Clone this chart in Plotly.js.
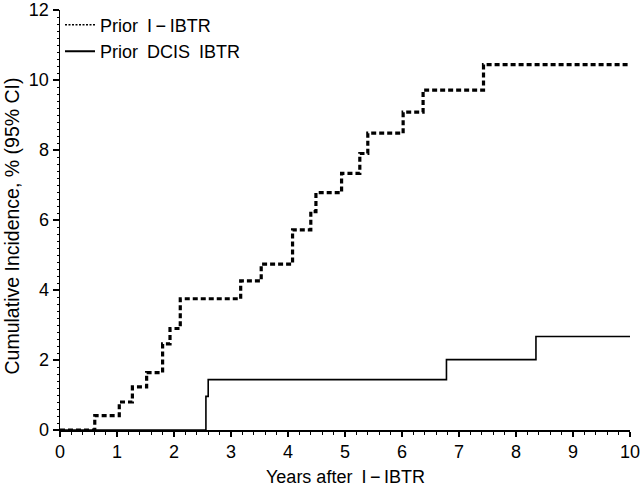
<!DOCTYPE html>
<html>
<head>
<meta charset="utf-8">
<script src="https://cdn.plot.ly/plotly-3.0.1.min.js"></script>
<style>html,body{margin:0;padding:0;background:#fff;}#chart{width:640px;height:490px;}</style>
</head>
<body>
<div id="chart"></div>
<script>
// Prior I-IBTR (dashed) step curve
const priorIX = [0, 0.61, 1.04, 1.27, 1.52, 1.80, 1.93, 2.11, 3.17, 3.53, 4.08, 4.40, 4.49, 4.94, 5.26, 5.40, 6.02, 6.37, 7.43, 10];
const priorIY = [0, 0.41, 0.80, 1.23, 1.64, 2.46, 2.90, 3.75, 4.26, 4.74, 5.72, 6.24, 6.78, 7.33, 7.90, 8.48, 9.08, 9.71, 10.44, 10.44];
// Prior DCIS IBTR (solid) step curve
const priorDX = [0, 2.56, 2.60, 6.78, 8.35, 10];
const priorDY = [0, 0.96, 1.44, 2.01, 2.67, 2.67];

const seriesNames = ["Prior\u2002I\u2009\u2212\u2009IBTR", "Prior\u2002DCIS\u2002IBTR"];
const xTicks = [0,1,2,3,4,5,6,7,8,9,10];
const yTicks = [0,2,4,6,8,10,12];
const xTitle = "Years after\u2002I\u2009\u2212\u2009IBTR";
const yTitle = "Cumulative Incidence, % (95% CI)";

const font = {family: "Liberation Sans, Arial, sans-serif", color: "#000"};

const traces = [
  {x: priorIX, y: priorIY, mode: "lines", line: {shape: "hv", color: "#000", width: 3.2, dash: "5px,3px"}, showlegend: false, cliponaxis: false},
  {x: priorDX, y: priorDY, mode: "lines", line: {shape: "hv", color: "#000", width: 1.6}, showlegend: false, cliponaxis: false},
  {x: [null], y: [null], mode: "lines", name: seriesNames[0], line: {color: "#000", width: 1.5, dash: "2px,1.5px"}, legendgroup: "a"},
  {x: [null], y: [null], mode: "lines", name: seriesNames[1], line: {color: "#000", width: 2}, legendgroup: "b"}
];

const layout = {
  width: 640, height: 490,
  margin: {l: 60, r: 10, t: 7, b: 60},
  paper_bgcolor: "#fff", plot_bgcolor: "#fff",
  font: Object.assign({size: 18}, font),
  showlegend: true,
  legend: {x: 0.0, y: 1.008, xanchor: "left", yanchor: "top", bgcolor: "rgba(0,0,0,0)",
           font: Object.assign({size: 18}, font), itemwidth: 30, tracegroupgap: 0, traceorder: "normal"},
  xaxis: {
    range: [0, 10], tickvals: xTicks, ticktext: xTicks.map(String),
    showgrid: false, zeroline: false, showline: true, linecolor: "#000", linewidth: 1.5,
    ticks: "outside", ticklen: 5, tickwidth: 1.2, tickcolor: "#000",
    minor: {dtick: 0.2, ticks: "outside", ticklen: 3, tickwidth: 1, tickcolor: "#000", showgrid: false},
    tickfont: Object.assign({size: 18}, font), ticklabeloverflow: "allow"
  },
  yaxis: {
    range: [0, 12], tickvals: yTicks, ticktext: yTicks.map(String),
    showgrid: false, zeroline: false, showline: true, linecolor: "#000", linewidth: 1.5,
    ticks: "outside", ticklen: 6, tickwidth: 1.2, tickcolor: "#000",
    minor: {dtick: 0.2, ticks: "outside", ticklen: 2, tickwidth: 1, tickcolor: "#000", showgrid: false},
    tickfont: Object.assign({size: 18}, font), ticklabeloverflow: "allow"
  },
  annotations: [
    {text: xTitle, xref: "paper", yref: "paper", x: 0.5, y: -0.111, xanchor: "center", yanchor: "middle",
     showarrow: false, font: Object.assign({size: 18}, font)},
    {text: yTitle, xref: "paper", yref: "paper", x: -0.0842, y: 0.4846, xanchor: "center", yanchor: "middle",
     textangle: -90, showarrow: false, font: Object.assign({size: 19.5}, font)}
  ]
};

Plotly.newPlot("chart", traces, layout, {staticPlot: true, displayModeBar: false});
</script>
</body>
</html>
